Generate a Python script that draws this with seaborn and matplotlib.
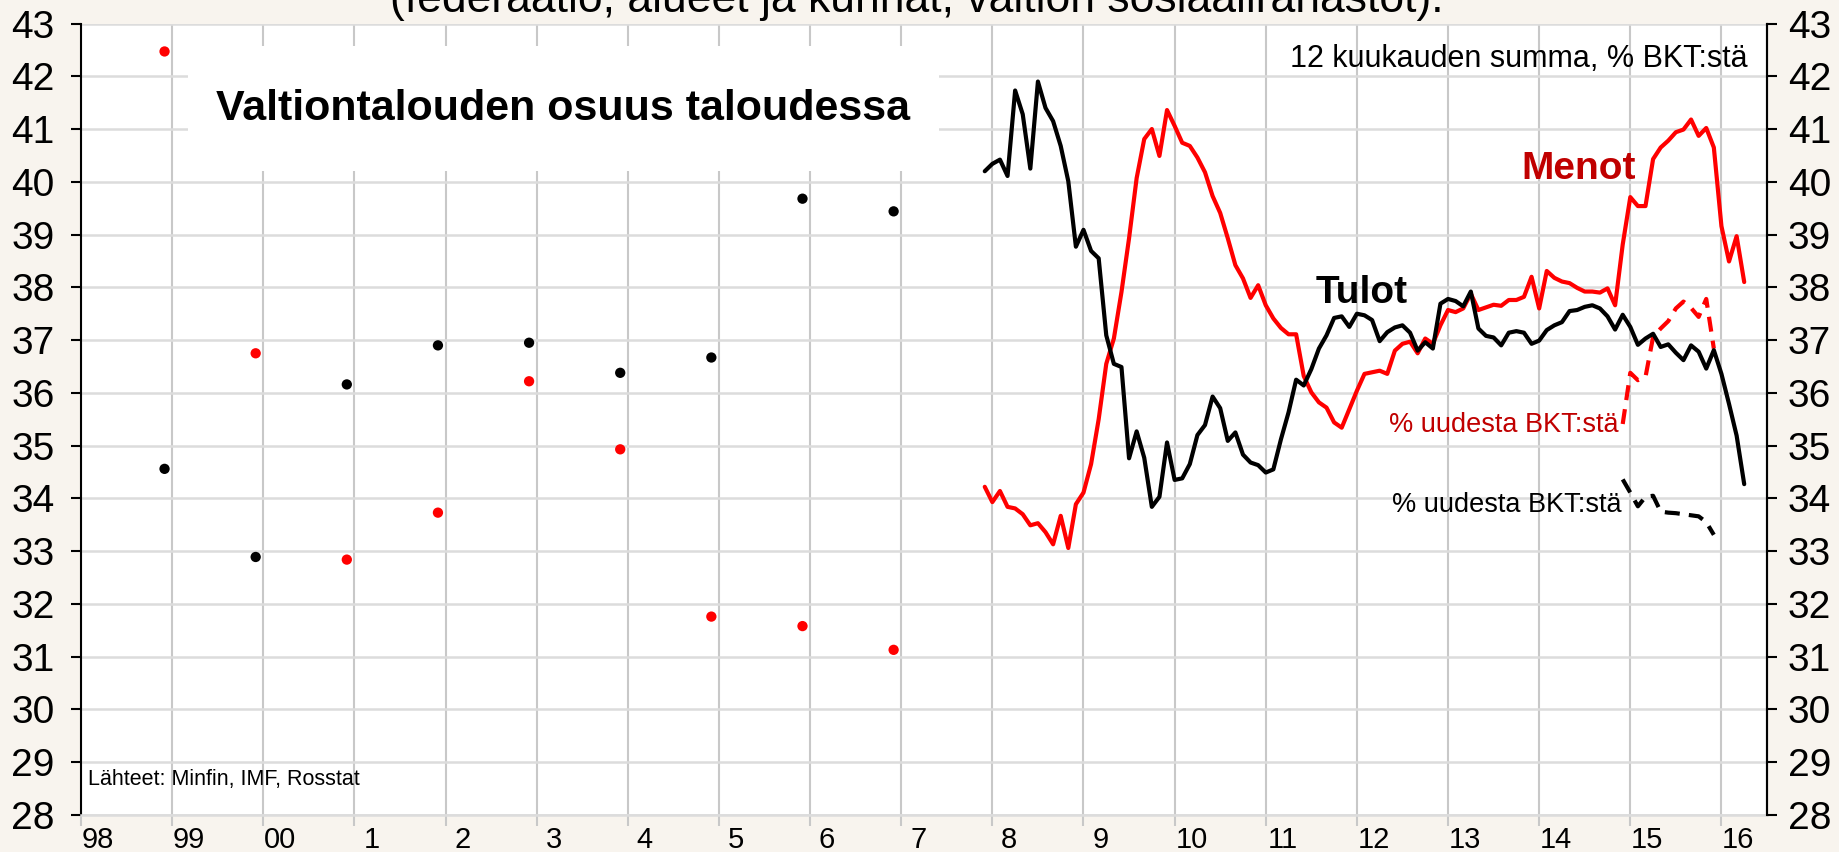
import pandas as pd
import matplotlib
matplotlib.use('Agg')
import matplotlib.pyplot as plt
import matplotlib.transforms as mtransforms
from matplotlib.patches import Rectangle
import seaborn as sns

# vuositason arvot (joulukuu), 1998-2006
vuodet = list(range(1998, 2007))
tulot_v = [34.56, 32.89, 36.16, 36.90, 36.95, 36.38, 36.67, 39.68, 39.44]
menot_v = [42.47, 36.75, 32.84, 33.73, 36.22, 34.93, 31.76, 31.58, 31.13]

# 12 kk summa, % BKT:stä, 12/2007 - 4/2016
tulot_m = [40.20, 40.34, 40.42, 40.11, 41.73, 41.28, 40.25, 41.90, 41.40, 41.15,
           40.68, 40.01, 38.77, 39.09, 38.69, 38.55, 37.09, 36.55, 36.49, 34.76,
           35.27, 34.77, 33.84, 34.03, 35.06, 34.35, 34.38, 34.65, 35.20, 35.39,
           35.93, 35.71, 35.09, 35.25, 34.83, 34.68, 34.63, 34.49, 34.55, 35.12,
           35.63, 36.25, 36.14, 36.45, 36.84, 37.09, 37.42, 37.45, 37.25, 37.50,
           37.47, 37.38, 36.98, 37.15, 37.24, 37.28, 37.14, 36.80, 36.96, 36.84,
           37.69, 37.78, 37.74, 37.64, 37.92, 37.22, 37.08, 37.05, 36.90, 37.14,
           37.17, 37.14, 36.93, 36.99, 37.19, 37.28, 37.34, 37.55, 37.57, 37.63,
           37.66, 37.60, 37.45, 37.20, 37.48, 37.25, 36.91, 37.03, 37.12, 36.87,
           36.92, 36.76, 36.62, 36.90, 36.78, 36.46, 36.81, 36.36, 35.79, 35.19,
           34.27]
menot_m = [34.22, 33.93, 34.14, 33.84, 33.81, 33.70, 33.49, 33.53, 33.36, 33.13,
           33.67, 33.06, 33.89, 34.11, 34.65, 35.50, 36.55, 37.03, 37.91, 38.93,
           40.07, 40.81, 41.00, 40.49, 41.36, 41.06, 40.74, 40.68, 40.46, 40.18,
           39.73, 39.41, 38.93, 38.42, 38.17, 37.80, 38.04, 37.66, 37.41, 37.23,
           37.11, 37.11, 36.32, 36.01, 35.82, 35.72, 35.44, 35.34, 35.69, 36.04,
           36.36, 36.39, 36.42, 36.36, 36.80, 36.93, 36.97, 36.75, 37.03, 36.93,
           37.28, 37.57, 37.53, 37.60, 37.88, 37.57, 37.62, 37.67, 37.65, 37.76,
           37.76, 37.82, 38.20, 37.60, 38.31, 38.18, 38.11, 38.08, 37.99, 37.92,
           37.92, 37.90, 37.98, 37.66, 38.81, 39.71, 39.54, 39.54, 40.43, 40.65,
           40.78, 40.94, 40.99, 41.18, 40.87, 41.02, 40.65, 39.16, 38.49, 38.97,
           38.10]

# % uudesta BKT:stä, 12/2014 - 12/2015
tulot_uusi = [34.36, 34.11, 33.85, 34.03, 34.05, 33.75, 33.73, 33.72, 33.70,
              33.68, 33.66, 33.55, 33.31]
menot_uusi = [35.41, 36.38, 36.24, 36.30, 37.06, 37.22, 37.36, 37.60, 37.73,
              37.61, 37.44, 37.78, 36.84]

x_labels = ['98', '99', '00', '1', '2', '3', '4', '5', '6', '7', '8', '9',
            '10', '11', '12', '13', '14', '15', '16']

bg = '#F8F4EE'
red = '#FF0000'
darkred = '#C00000'


def aika(start, n):
    kk = pd.date_range(start, periods=n, freq='MS')
    return kk.year + (kk.month - 1) / 12


df_v = pd.DataFrame({'aika': [v + 11 / 12 for v in vuodet],
                     'tulot': tulot_v, 'menot': menot_v})
df_m = pd.DataFrame({'aika': aika('2007-12-01', len(tulot_m)),
                     'tulot': tulot_m, 'menot': menot_m})
df_u = pd.DataFrame({'aika': aika('2014-12-01', len(tulot_uusi)),
                     'tulot': tulot_uusi, 'menot': menot_uusi})

sns.set_style('white')
plt.rcParams['font.family'] = ['Liberation Sans', 'DejaVu Sans']
plt.rcParams['text.color'] = 'black'
plt.rcParams['xtick.color'] = 'black'
plt.rcParams['ytick.color'] = 'black'

fig = plt.figure(figsize=(18.39, 8.52), dpi=100, facecolor=bg)
ax = fig.add_axes([81 / 1839, 37 / 852, 1686 / 1839, 791.5 / 852])
ax.set_facecolor('white')

sns.scatterplot(data=df_v, x='aika', y='tulot', color='black', s=55,
                edgecolor='none', ax=ax, zorder=3)
sns.scatterplot(data=df_v, x='aika', y='menot', color=red, s=55,
                edgecolor='none', ax=ax, zorder=3)
sns.lineplot(data=df_m, x='aika', y='menot', color=red, lw=3, ax=ax, zorder=3)
sns.lineplot(data=df_m, x='aika', y='tulot', color='black', lw=3, ax=ax, zorder=4)
sns.lineplot(data=df_u, x='aika', y='menot', color=red, lw=3, ax=ax,
             zorder=3, linestyle=(0, (3.6, 2.2)))
sns.lineplot(data=df_u, x='aika', y='tulot', color='black', lw=3, ax=ax,
             zorder=3, linestyle=(0, (3.6, 2.2)))

ax.set_xlim(1998, 2016.5)
ax.set_ylim(28, 43)
ax.set_xticks(range(1998, 2017))
ax.set_xticklabels(x_labels)
ax.set_yticks(range(28, 44))
ax.set_xlabel('')
ax.set_ylabel('')
ax.set_axisbelow(True)
ax.xaxis.grid(True, color='#C8C8C8', lw=1.5)
ax.yaxis.grid(True, color='#DCDCDC', lw=1.8)

ax.tick_params(axis='x', length=8, width=1.5, color='#C8C8C8', labelsize=21,
               pad=0, direction='out', bottom=True, labelcolor='black')
ax.tick_params(axis='y', length=7, width=1.5, color='black', labelsize=28,
               pad=12, direction='out', left=True, labelcolor='black')
offset = mtransforms.ScaledTranslation(0.17, 0, fig.dpi_scale_trans)
for lbl in ax.get_xticklabels():
    lbl.set_transform(lbl.get_transform() + offset)

ax.spines['top'].set_visible(False)
ax.spines['bottom'].set_color('#DCDCDC')
ax.spines['bottom'].set_linewidth(1.8)
ax.spines['left'].set_color('black')
ax.spines['left'].set_linewidth(1.5)
ax.spines['right'].set_color('black')
ax.spines['right'].set_linewidth(1.5)

ax2 = ax.twinx()
ax2.set_ylim(28, 43)
ax2.set_yticks(range(28, 44))
ax2.tick_params(axis='y', length=7, width=1.5, color='black', labelsize=28,
                pad=8, direction='out', right=True, labelcolor='black')
for side in ['top', 'bottom', 'left']:
    ax2.spines[side].set_visible(False)
ax2.spines['right'].set_color('black')
ax2.spines['right'].set_linewidth(1.5)

# otsikkolaatikko
ax.add_patch(Rectangle((1999.17, 40.21), 8.25, 2.36, facecolor='white',
                       edgecolor='none', zorder=2))
ax.text(2003.29, 41.38, 'Valtiontalouden osuus taloudessa', ha='center',
        va='center', fontsize=31, fontweight='bold', zorder=5)

ax.text(2016.29, 42.18, '12 kuukauden summa, % BKT:stä', ha='right',
        va='baseline', fontsize=22, zorder=5)
ax.text(1998.08, 28.56, 'Lähteet: Minfin, IMF, Rosstat', ha='left',
        va='baseline', fontsize=15.5, zorder=5)
ax.text(2011.55, 37.71, 'Tulot', ha='left', va='baseline', fontsize=28,
        fontweight='bold', zorder=5)
ax.text(2013.81, 40.05, 'Menot', ha='left', va='baseline', fontsize=28,
        fontweight='bold', color=darkred, zorder=5)
ax.text(2012.35, 35.26, '% uudesta BKT:stä', ha='left', va='baseline',
        fontsize=19.5, color=darkred, zorder=5)
ax.text(2012.39, 33.75, '% uudesta BKT:stä', ha='left', va='baseline',
        fontsize=19.5, color='black', zorder=5)

fig.text(0.4987, 1 - 12 / 852,
         '(federaatio, alueet ja kunnat, valtion sosiaalirahastot):',
         ha='center', va='baseline', fontsize=32)

fig.savefig('out.png', dpi=100, facecolor=bg)
